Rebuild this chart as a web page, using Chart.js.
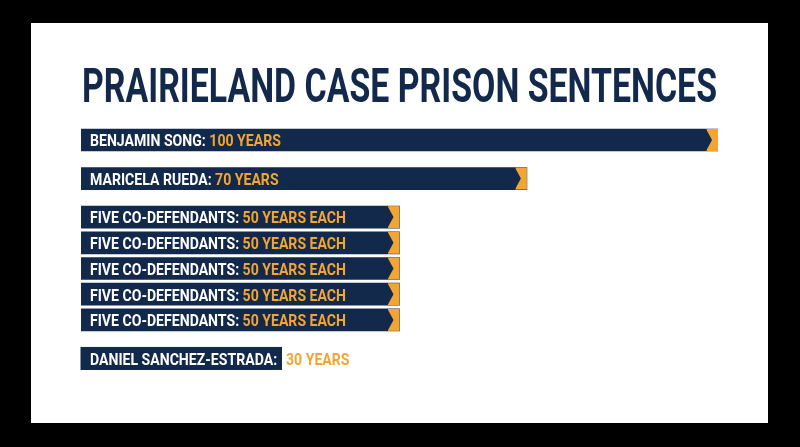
<!DOCTYPE html>
<html><head><meta charset="utf-8">
<script src="https://cdn.jsdelivr.net/npm/chart.js@4/dist/chart.umd.min.js"></script>
<style>html,body{margin:0;padding:0;background:#000;overflow:hidden}#wrap{width:800px;height:447px;position:relative}</style>
</head><body><div id="wrap"><canvas id="c" width="800" height="447"></canvas></div>
<script>
const TITLE = 'PRAIRIELAND CASE PRISON SENTENCES';
const names = ['BENJAMIN SONG', 'MARICELA RUEDA', 'FIVE CO-DEFENDANTS', 'FIVE CO-DEFENDANTS', 'FIVE CO-DEFENDANTS', 'FIVE CO-DEFENDANTS', 'FIVE CO-DEFENDANTS', 'DANIEL SANCHEZ-ESTRADA'];
const years = [100, 70, 50, 50, 50, 50, 50, 30];
const valueLabels = ['100 YEARS', '70 YEARS', '50 YEARS EACH', '50 YEARS EACH', '50 YEARS EACH', '50 YEARS EACH', '50 YEARS EACH', '30 YEARS'];
const groups = [0, 1, 2, 2, 2, 2, 2, 3];

const NAVY = '#13294b';
const ORANGE = '#f2a532';
const FONT = 'Roboto, "Liberation Sans", sans-serif';

const deco = {
  id: 'deco',
  beforeDraw(chart) {
    const ctx = chart.ctx;
    ctx.save();
    ctx.fillStyle = '#000';
    ctx.fillRect(0, 0, chart.width, chart.height);
    ctx.fillStyle = '#fff';
    ctx.fillRect(31, 23, 737, 400);
    ctx.font = 'bold 48px ' + FONT;
    const w = ctx.measureText(TITLE).width;
    ctx.translate(82, 102);
    ctx.scale(635 / w, 1);
    ctx.fillStyle = NAVY;
    ctx.textBaseline = 'alphabetic';
    ctx.fillText(TITLE, 0, 0);
    ctx.restore();
  },
  afterDatasetsDraw(chart) {
    const ctx = chart.ctx;
    const meta = chart.getDatasetMeta(0);
    const last = meta.data.length - 1;
    ctx.save();
    ctx.font = 'bold 17px ' + FONT;
    const sx = 256 / ctx.measureText('FIVE CO-DEFENDANTS: 50 YEARS EACH').width;
    meta.data.forEach((bar, i) => {
      const p = bar.getProps(['x', 'y', 'base', 'height'], true);
      const top = p.y - p.height / 2, bot = p.y + p.height / 2;
      if (i !== last) {
        const tw = 11.5, td = 5.5;
        ctx.fillStyle = ORANGE;
        ctx.fillRect(p.x - tw, top, tw, p.height);
        ctx.fillStyle = NAVY;
        ctx.beginPath();
        ctx.moveTo(p.x - tw - 0.5, top);
        ctx.lineTo(p.x - tw + td, p.y);
        ctx.lineTo(p.x - tw - 0.5, bot);
        ctx.closePath();
        ctx.fill();
      }
      const tx = 90;
      const white = names[i] + ':';
      const whiteEnd = tx + sx * ctx.measureText(white).width;
      let valX = tx + sx * ctx.measureText(white + ' ').width;
      if (whiteEnd + 5 > p.x - 2) {
        const boxEnd = Math.round(whiteEnd + 5);
        ctx.fillStyle = NAVY;
        ctx.fillRect(p.base - 0.5, top - 0.5, boxEnd - p.base + 0.5, p.height + 1);
        valX = Math.max(valX, boxEnd + 4);
      }
      const base = p.y + 6.3;
      ctx.save();
      ctx.translate(tx, base);
      ctx.scale(sx, 1);
      ctx.fillStyle = '#ffffff';
      ctx.fillText(white, 0, 0);
      ctx.restore();
      ctx.save();
      ctx.translate(valX, base);
      ctx.scale(sx, 1);
      ctx.fillStyle = ORANGE;
      ctx.fillText(valueLabels[i], 0, 0);
      ctx.restore();
    });
    ctx.restore();
  }
};

new Chart(document.getElementById('c'), {
  type: 'bar',
  data: {
    datasets: [{
      data: years.map((v, i) => ({ x: v, y: i + 0.5 * groups[i] })),
      backgroundColor: NAVY,
      borderWidth: 0,
      barThickness: 22
    }]
  },
  options: {
    indexAxis: 'y',
    responsive: false,
    animation: false,
    layout: { padding: { left: 81, right: 82, top: 114.3, bottom: 50 } },
    scales: {
      x: { type: 'linear', min: 0, max: 100, display: false },
      y: { type: 'linear', min: -1, max: 10, reverse: true, offset: false, display: false }
    },
    plugins: { legend: { display: false }, tooltip: { enabled: false } }
  },
  plugins: [deco]
});
</script>
</body></html>
